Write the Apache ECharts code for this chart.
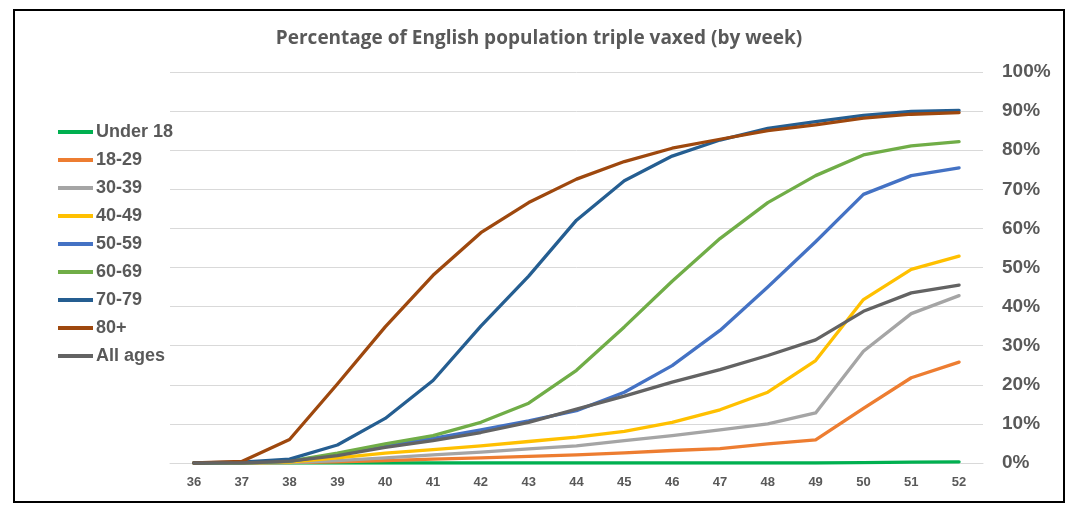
<!DOCTYPE html>
<html>
<head>
<meta charset="utf-8">
<script src="https://cdn.jsdelivr.net/npm/echarts@6/dist/echarts.min.js"></script>
<style>
html,body{margin:0;padding:0;background:#fff;}
#chart{width:1078px;height:526px;}
</style>
</head>
<body>
<div id="chart"></div>
<script>
const weeks = ['36','37','38','39','40','41','42','43','44','45','46','47','48','49','50','51','52'];
const yTicks = [0,10,20,30,40,50,60,70,80,90,100];

const under18  = [0,0,0,0,0,0,0,0,0,0,0,0,0,0,0.1,0.2,0.3];
const age18_29 = [0,0,0.1,0.3,0.6,1.0,1.3,1.7,2.1,2.6,3.2,3.7,4.9,5.9,14.0,21.8,25.8];
const age30_39 = [0,0,0.1,0.6,1.3,2.1,2.8,3.6,4.4,5.7,7.0,8.5,10.0,12.8,28.6,38.2,42.8];
const age40_49 = [0,0,0.2,1.3,2.5,3.4,4.4,5.5,6.6,8.1,10.4,13.6,18.1,26.2,41.8,49.5,52.9];
const age50_59 = [0,0,0.4,2.3,4.4,6.3,8.5,10.8,13.4,18.1,24.9,33.9,45.0,56.6,68.7,73.5,75.5];
const age60_69 = [0,0,0.5,2.5,4.9,7.0,10.4,15.3,23.7,34.8,46.5,57.4,66.6,73.5,78.8,81.1,82.2];
const age70_79 = [0,0.2,1.0,4.6,11.4,21.1,35.0,47.8,62.1,72.2,78.5,82.6,85.6,87.3,88.9,89.9,90.2];
const age80p   = [0,0.4,6.0,20.2,34.8,48.0,58.9,66.6,72.6,77.1,80.5,82.8,85.0,86.5,88.2,89.2,89.6];
const allAges  = [0,0,0.5,1.9,4.0,5.7,7.8,10.4,13.8,17.1,20.7,23.9,27.5,31.5,38.8,43.5,45.5];

const seriesNames = ['Under 18','18-29','30-39','40-49','50-59','60-69','70-79','80+','All ages'];
const seriesData = [under18, age18_29, age30_39, age40_49, age50_59, age60_69, age70_79, age80p, allAges];
const colors = ['#00b050','#ed7d31','#a5a5a5','#ffc000','#4472c4','#70ad47','#255e91','#9e480e','#636363'];

const chart = echarts.init(document.getElementById('chart'), null, {renderer:'canvas'});
chart.setOption({
  animation:false,
  backgroundColor:'#ffffff',
  color: colors,
  title:{
    text:'Percentage of English population triple vaxed (by week)',
    left:'center', top:29, padding:0,
    textStyle:{fontFamily:'Open Sans', fontWeight:'bold', fontSize:19, color:'#595959'}
  },
  graphic:[{
    type:'rect', silent:true, z:-1,
    shape:{x:14,y:10,width:1050,height:492},
    style:{fill:'none', stroke:'#000000', lineWidth:2}
  }],
  legend:{
    orient:'vertical', left:58, top:122, padding:0,
    icon:'rect', itemWidth:35, itemHeight:4, itemGap:8,
    data: seriesNames,
    textStyle:{fontFamily:'Liberation Sans, Arial', fontWeight:'bold', fontSize:18, color:'#595959', lineHeight:20, padding:[0,0,0,-2]}
  },
  grid:{left:170, right:95, top:72, bottom:63, containLabel:false},
  xAxis:{
    type:'category', data: weeks, boundaryGap:true,
    axisLine:{show:true, lineStyle:{color:'#d9d9d9', width:1}},
    axisTick:{show:false},
    axisLabel:{margin:13, fontFamily:'Liberation Sans, Arial', fontWeight:'bold', fontSize:13, color:'#595959'},
    splitLine:{show:false}
  },
  yAxis:{
    type:'value', position:'right', min:yTicks[0], max:yTicks[yTicks.length-1], interval:yTicks[1]-yTicks[0],
    axisLine:{show:false}, axisTick:{show:false},
    axisLabel:{margin:19, formatter:'{value}%', fontFamily:'Liberation Sans, Arial', fontWeight:'bold', fontSize:19, color:'#595959', padding:[3,0,0,0]},
    splitLine:{show:true, lineStyle:{color:'#d9d9d9', width:1}}
  },
  series: seriesNames.map((n,i)=>({
    name:n, type:'line', data:seriesData[i],
    showSymbol:false, symbol:'none', smooth:false,
    lineStyle:{width:3.3, color:colors[i], cap:'round', join:'round'},
    itemStyle:{color:colors[i]}
  }))
});
</script>
</body>
</html>
